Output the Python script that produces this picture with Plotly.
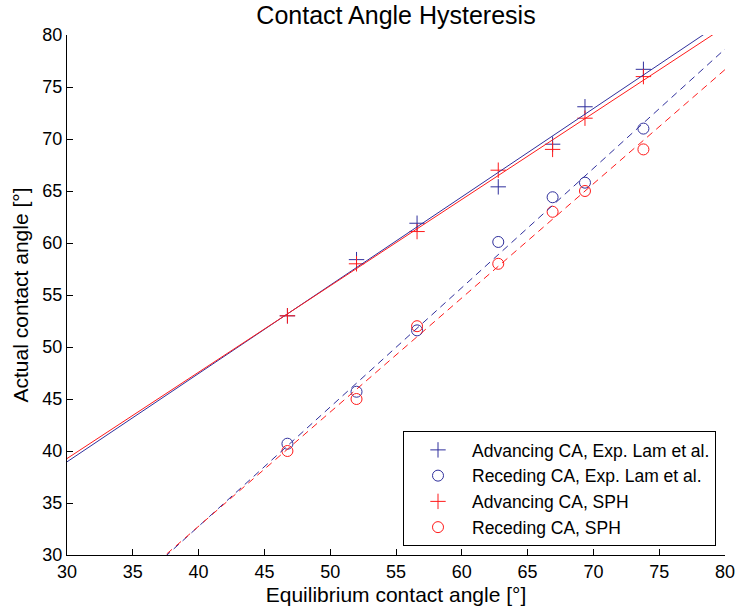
import numpy as np
import plotly.graph_objects as go

# Data
theta_eq = [46.75, 52.0, 56.6, 62.77, 66.9, 69.36, 73.8]
adv_exp = [53.0, 58.4, 61.9, 65.4, 69.5, 73.1, 76.7]
rec_exp = [40.7, 45.7, 51.6, 60.1, 64.4, 65.8, 71.0]
adv_sph = [53.0, 58.0, 61.1, 67.0, 69.0, 72.0, 76.0]
rec_sph = [40.0, 45.0, 52.0, 58.0, 63.0, 65.0, 69.0]

series_names = [
    "Advancing CA, Exp. Lam et al.",
    "Receding CA, Exp. Lam et al.",
    "Advancing CA, SPH",
    "Receding CA, SPH",
]

x_range = [30, 80]
y_range = [30, 80]
tick_vals = [30, 35, 40, 45, 50, 55, 60, 65, 70, 75, 80]

BLUE = "#2f2f9c"
RED = "#ff1a1a"
FONT = "Liberation Sans, Arial, sans-serif"

W, H = 737, 612

fig = go.Figure()

series = [
    (adv_exp, series_names[0], "cross-thin-open", BLUE, "solid"),
    (rec_exp, series_names[1], "circle-open", BLUE, "7px,5px"),
    (adv_sph, series_names[2], "cross-thin-open", RED, "solid"),
    (rec_sph, series_names[3], "circle-open", RED, "7px,5px"),
]

# Markers
for ys, name, sym, col, dash in series:
    fig.add_trace(go.Scatter(
        x=theta_eq, y=ys, mode="markers", name=name,
        marker=dict(symbol=sym, size=11,
                    color=col, line=dict(color=col, width=1)),
        cliponaxis=False,
    ))

# Linear fits
xf = np.array(x_range, dtype=float)
for ys, name, sym, col, dash in series:
    p = np.polyfit(theta_eq, ys, 1)
    fig.add_trace(go.Scatter(
        x=xf, y=np.polyval(p, xf), mode="lines", showlegend=False,
        line=dict(color=col, width=1, dash=dash), hoverinfo="skip",
    ))

axis_common = dict(
    showgrid=False, zeroline=False, showline=True, linecolor="black",
    linewidth=1, ticks="inside", ticklen=6, tickcolor="black",
    tickfont=dict(family=FONT, size=18, color="black"),
    tickvals=tick_vals, mirror=False, automargin=False,
    ticklabeloverflow="allow",
)

fig.update_layout(
    width=W, height=H, autosize=False,
    margin=dict(l=67, r=12, t=35, b=57),
    paper_bgcolor="white", plot_bgcolor="white",
    font=dict(family=FONT, color="black"),
    title=dict(text="Contact Angle Hysteresis", x=0.5, xref="paper",
               y=1 - 15 / H, yanchor="middle", pad=dict(t=0, b=0),
               font=dict(family=FONT, size=25, color="black")),
    xaxis=dict(range=x_range,
               title=dict(text="Equilibrium contact angle [°]",
                          font=dict(family=FONT, size=21), standoff=6),
               **axis_common),
    yaxis=dict(range=y_range,
               title=dict(text="Actual contact angle [°]",
                          font=dict(family=FONT, size=21), standoff=8),
               **axis_common),
    legend=dict(x=(716 - 67) / 658, xanchor="right",
                y=(555 - 546) / 520, yanchor="bottom",
                bordercolor="black", borderwidth=1, bgcolor="white",
                font=dict(family=FONT, size=17.5, color="black"),
                itemwidth=58, tracegroupgap=0),
    showlegend=True,
)

# Remove the page's default body margin so the 737x612 figure fills the window.
fig.write_html(
    "out.html",
    config={"displayModeBar": False},
    post_script="document.body.style.margin='0px';"
                "document.documentElement.style.overflow='hidden';",
)
